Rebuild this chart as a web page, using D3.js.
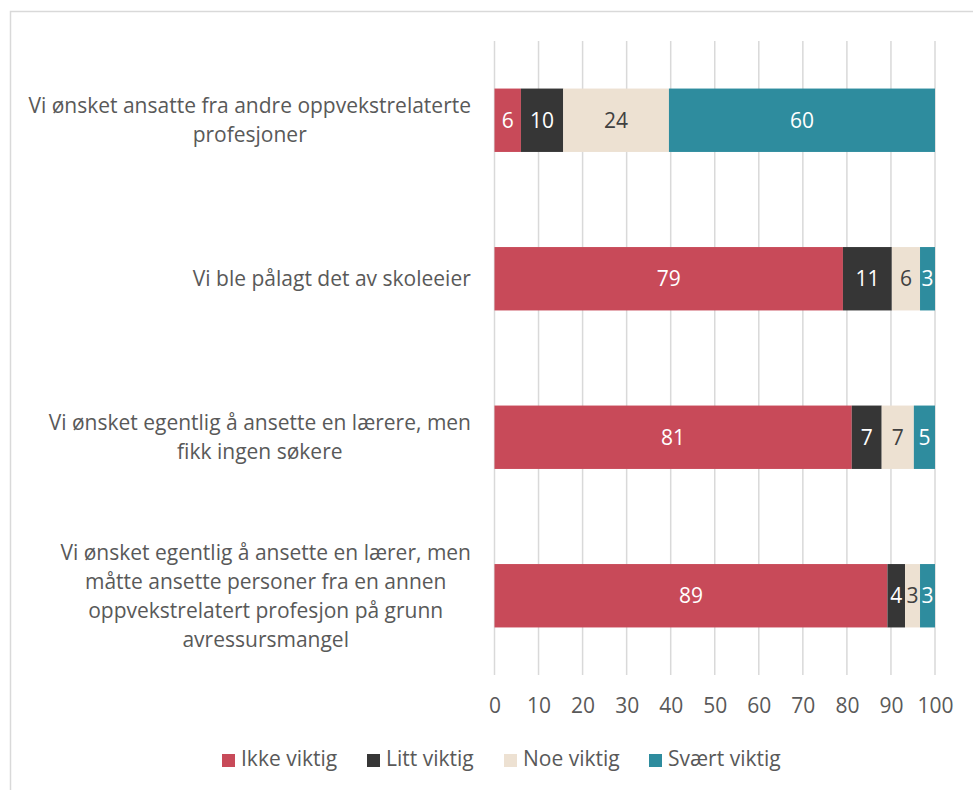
<!DOCTYPE html>
<html>
<head>
<meta charset="utf-8">
<script src="https://cdn.jsdelivr.net/npm/d3@7"></script>
<style>
  html, body { margin: 0; padding: 0; background: #fff; }
  svg { display: block; font-family: "Open Sans", sans-serif; }
</style>
</head>
<body>
<div id="chart"></div>
<script>
  // categories, top to bottom (each entry is the wrapped lines)
  var categories = [
    ["Vi ønsket ansatte fra andre oppvekstrelaterte", "profesjoner"],
    ["Vi ble pålagt det av skoleeier"],
    ["Vi ønsket egentlig å ansette en lærere, men", "fikk ingen søkere"],
    ["Vi ønsket egentlig å ansette en lærer, men", "måtte ansette personer fra en annen", "oppvekstrelatert profesjon på grunn", "avressursmangel"]
  ];
  var seriesNames = ["Ikke viktig", "Litt viktig", "Noe viktig", "Svært viktig"];
  var ikkeViktig  = [6.0, 79.1, 81.1, 89.2];
  var littViktig  = [9.6, 11.1, 6.8, 4.0];
  var noeViktig   = [24.0, 6.4, 7.3, 3.4];
  var svaertViktig = [60.4, 3.4, 4.8, 3.4];
  var xTicks = [0, 10, 20, 30, 40, 50, 60, 70, 80, 90, 100];

  var colors = ["#C84A59", "#363636", "#EDE1D2", "#2E8C9E"];
  var labelColors = ["#fff", "#fff", "#404040", "#fff"];
  var textGray = "#595959";
  var fs = 21;

  var W = 973, H = 790;
  var svg = d3.select("#chart").append("svg").attr("width", W).attr("height", H);

  // chart border
  svg.append("rect").attr("x", 10.5).attr("y", 11.5).attr("width", 980).attr("height", 800)
    .attr("fill", "none").attr("stroke", "#D9D9D9").attr("stroke-width", 1.5);

  var x = d3.scaleLinear().domain([0, 100]).range([494.5, 935]);
  var y = d3.scaleBand().domain(d3.range(categories.length)).range([41, 675])
    .paddingInner(0.6).paddingOuter(0.3);

  // gridlines
  svg.append("g").selectAll("line").data(xTicks).join("line")
    .attr("x1", d => x(d)).attr("x2", d => x(d))
    .attr("y1", 41).attr("y2", 675)
    .attr("stroke", "#D9D9D9").attr("stroke-width", 1.5);

  // stack the series
  var series = [ikkeViktig, littViktig, noeViktig, svaertViktig];
  var rows = categories.map(function (c, i) {
    var o = {i: i};
    seriesNames.forEach(function (s, k) { o[s] = series[k][i]; });
    return o;
  });
  var stacked = d3.stack().keys(seriesNames)(rows);

  var layers = svg.append("g").selectAll("g").data(stacked).join("g")
    .attr("fill", (d, k) => colors[k]);
  layers.selectAll("rect").data(d => d).join("rect")
    .attr("x", d => x(d[0]))
    .attr("width", d => x(d[1]) - x(d[0]))
    .attr("y", d => y(d.data.i))
    .attr("height", y.bandwidth());

  // value labels
  stacked.forEach(function (layer, k) {
    svg.append("g").selectAll("text").data(layer).join("text")
      .attr("x", d => (x(d[0]) + x(d[1])) / 2)
      .attr("y", d => y(d.data.i) + y.bandwidth() / 2)
      .attr("dy", "0.35em")
      .attr("text-anchor", "middle")
      .attr("font-size", fs)
      .attr("fill", labelColors[k])
      .text(d => Math.round(d[1] - d[0]));
  });

  // x axis tick labels
  var xAxis = d3.axisBottom(x).tickValues(xTicks).tickSize(0).tickPadding(0);
  var gx = svg.append("g").attr("transform", "translate(0,698)").call(xAxis);
  gx.select(".domain").remove();
  gx.selectAll("text").attr("font-family", "Open Sans").attr("font-size", fs).attr("fill", textGray);

  // category labels: block right aligned at the axis, lines centered within it
  var lineH = 29;
  categories.forEach(function (lines, i) {
    var t = svg.append("text").attr("font-size", fs).attr("fill", textGray).attr("text-anchor", "middle");
    var cy = y(i) + y.bandwidth() / 2;
    var top = cy - (lines.length - 1) * lineH / 2;
    lines.forEach(function (l, j) {
      t.append("tspan").attr("x", 0).attr("y", top + j * lineH).attr("dy", "0.35em").text(l);
    });
    var w = t.node().getBBox().width;
    t.selectAll("tspan").attr("x", 471 - w / 2);
  });

  // legend
  var legendX = [222, 367, 504, 649];
  var leg = svg.append("g").selectAll("g").data(seriesNames).join("g")
    .attr("transform", (d, k) => "translate(" + legendX[k] + ",759)");
  leg.append("rect").attr("x", 0).attr("y", -5).attr("width", 13).attr("height", 13)
    .attr("fill", (d, k) => colors[k]);
  leg.append("text").attr("x", 19).attr("dy", "0.35em").attr("font-size", fs)
    .attr("fill", textGray).text(d => d);
</script>
</body>
</html>
